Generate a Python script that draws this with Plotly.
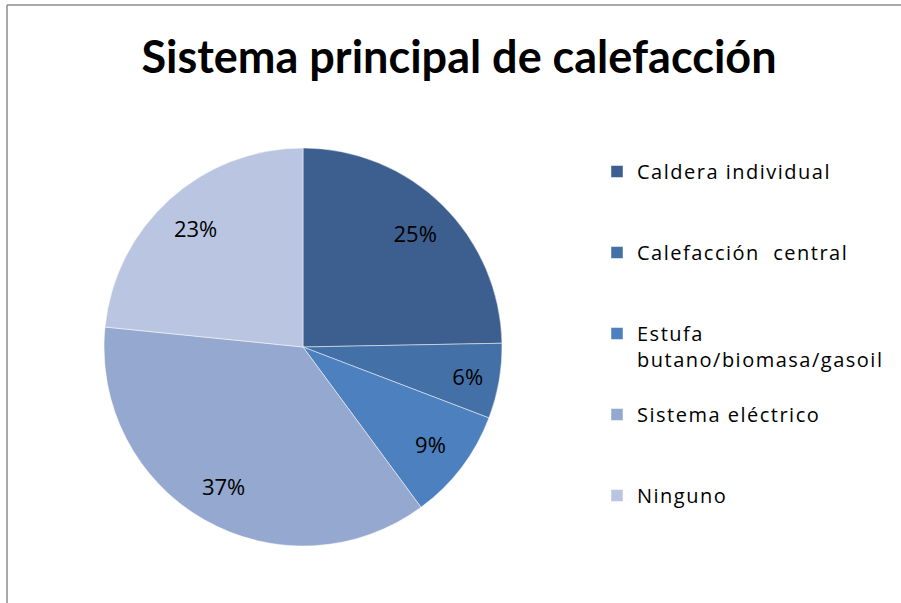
import plotly.graph_objects as go

categories = ["Caldera individual", "Calefacción  central",
              "Estufa<br>butano/biomasa/gasoil", "Sistema eléctrico", "Ninguno"]
values = [24.7, 6.1, 9.1, 36.7, 23.4]
colors = ["#3C5F8F", "#4470A8", "#4D80BE", "#95A8D0", "#BAC6E1"]
title_text = "Sistema principal de calefacción"

W, H = 901, 603
cx, cy, R = 303, 347, 199
domain = dict(x=[(cx - R) / W, (cx + R) / W], y=[1 - (cy + R) / H, 1 - (cy - R) / H])

# legend labels: loose letter spacing, padded with blank lines so items sit ~80px apart
SPAN = '<span style="letter-spacing:1.5px">'
pad_lines = [2, 2, 1, 2, 0]
legend_labels = [SPAN + c.replace("<br>", "</span><br>" + SPAN) + "</span>" + "<br> " * n
                 for c, n in zip(categories, pad_lines)]

fig = go.Figure()
# coloured pie (with legend)
fig.add_trace(go.Pie(
    labels=legend_labels,
    values=values,
    sort=False,
    direction="clockwise",
    rotation=0,
    marker=dict(colors=colors, line=dict(color="rgba(255,255,255,0.6)", width=0.8)),
    textinfo="none",
    hovertemplate="%{percent:.0%}<extra></extra>",
    domain=domain,
))
# transparent ring carrying the percentage labels near the rim
fig.add_trace(go.Pie(
    labels=legend_labels,
    values=values,
    sort=False,
    direction="clockwise",
    rotation=0,
    hole=0.61,
    marker=dict(colors=["rgba(0,0,0,0)"] * len(values), line=dict(width=0)),
    texttemplate="%{percent:.0%}",
    textposition="inside",
    insidetextorientation="horizontal",
    textfont=dict(family="Open Sans", size=22, color="black"),
    hoverinfo="skip",
    showlegend=False,
    domain=domain,
))

fig.update_layout(
    width=W, height=H,
    margin=dict(l=0, r=0, t=0, b=0),
    paper_bgcolor="white",
    plot_bgcolor="white",
    title=dict(text="<b>" + title_text + "</b>", x=459 / W, xanchor="center",
               y=1 - 57 / H, yanchor="middle",
               font=dict(family="Lato", size=45, color="black")),
    legend=dict(x=597 / W, xanchor="left", y=1 - 152 / H, yanchor="top",
                font=dict(family="Open Sans", size=20, color="black"),
                valign="top", bgcolor="rgba(0,0,0,0)"),
    shapes=[
        dict(type="line", xref="paper", yref="paper", x0=7 / W, x1=1.05,
             y0=1 - 5 / H, y1=1 - 5 / H, line=dict(color="#8C8C8C", width=1.5)),
        dict(type="line", xref="paper", yref="paper", x0=7 / W, x1=7 / W,
             y0=-0.05, y1=1 - 5 / H, line=dict(color="#8C8C8C", width=1.5)),
    ],
)

fig.write_html("out.html", config={"displayModeBar": False},
               post_script="document.body.style.margin='0';")
